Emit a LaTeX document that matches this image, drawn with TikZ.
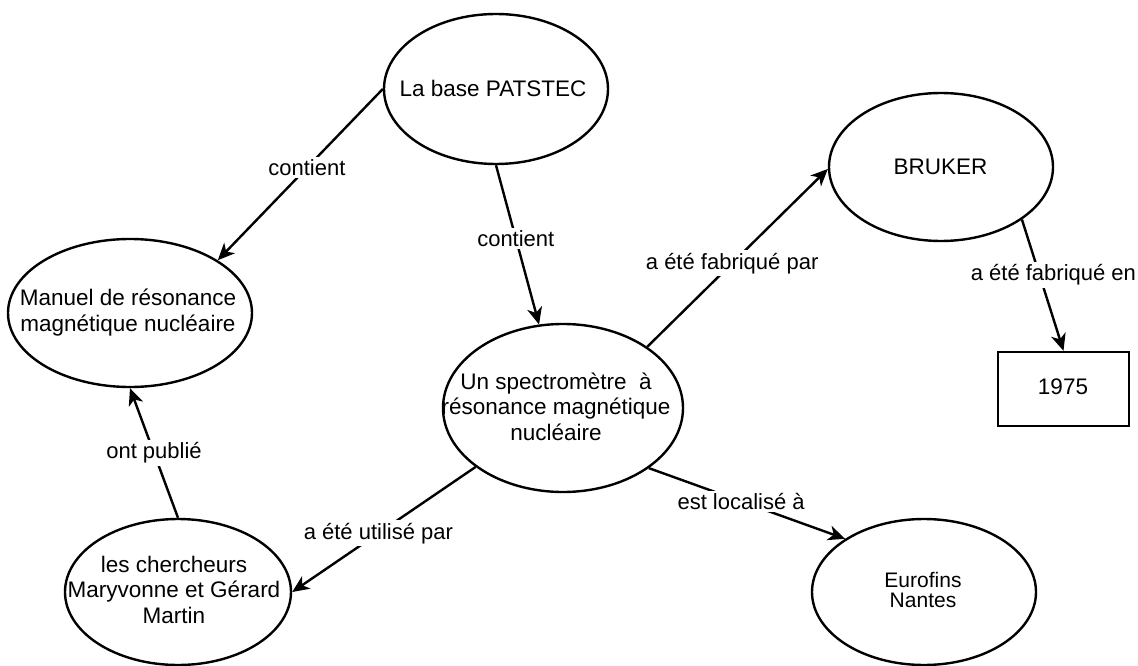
\documentclass[tikz,border=0pt]{standalone}
\usepackage{fontspec}
\setmainfont{Liberation Sans}
\usetikzlibrary{arrows.meta,shapes.geometric}
\begin{document}
\begin{tikzpicture}[x=1pt,y=-1pt,
  ell/.style={draw=black, line width=2.4pt, ellipse, inner sep=0pt},
  yearbox/.style={draw=black, line width=2.4pt, rectangle, inner sep=0pt},
  txt/.style={align=center, inner sep=0pt, font=\fontsize{22.5}{25.5}\selectfont},
  lab/.style={fill=white, inner sep=2.5pt, font=\fontsize{22}{25}\selectfont},
  conn/.style={line width=2.4pt, -{Stealth[length=17pt,width=15pt,inset=5pt]}}]
\useasboundingbox (0,0) rectangle (1138,666);
% shapes
\node[ell, minimum width=224pt, minimum height=150pt] (pat) at (496,89) {};
\node[ell, minimum width=244pt, minimum height=148pt] (man) at (130,313) {};
\node[ell, minimum width=240pt, minimum height=168pt] (spec) at (563,408) {};
\node[ell, minimum width=224pt, minimum height=148pt] (bru) at (941,167) {};
\node[yearbox, minimum width=131pt, minimum height=74pt] (yr) at (1063.5,389) {};
\node[ell, minimum width=226pt, minimum height=146pt] (cher) at (178,592) {};
\node[ell, minimum width=224pt, minimum height=146pt] (euro) at (924,592) {};
% texts
\node[txt, anchor=base] (pat-t) at (493,97) {La base PATSTEC};
\node[txt] (man-t) at (128,312.7) {Manuel de résonance\\magnétique nucléaire};
\node[txt] (spec-t) at (556,406.4) {Un spectromètre~ à\\résonance magnétique\\nucléaire};
\node[txt, anchor=base] (bru-t) at (940.5,175) {BRUKER};
\node[txt, anchor=base] (yr-t) at (1063,394) {1975};
\node[txt] (cher-t) at (174,589.5) {les chercheurs\\Maryvonne et Gérard\\Martin};
\node[txt, font=\fontsize{21}{20.5}\selectfont] (euro-t) at (923,589.8) {Eurofins\\Nantes};
% connectors
\draw[conn] (pat.180) -- node[lab, pos=0.46] (l1) {contient} (man.31.5);
\draw[conn] (pat.270) -- node[lab, pos=0.46] (l2) {contient} (spec.106.6);
\draw[conn] (spec.36) -- node[lab, pos=0.47] (l3) {a été fabriqué par} (bru.181);
\draw[conn] (bru.-33.5) -- node[lab, pos=0.42, xshift=14pt] (l4) {a été fabriqué en} (yr.north);
\draw[conn] (spec.214) -- node[lab, pos=0.53] (l5) {a été utilisé par} (cher.east);
\draw[conn] (spec.-35.2) -- node[lab, pos=0.47] (l6) {est localisé à} (euro.146.8);
\draw[conn] (cher.north) -- node[lab, pos=0.5] (l7) {ont publié} (man.south);
\end{tikzpicture}
\end{document}
